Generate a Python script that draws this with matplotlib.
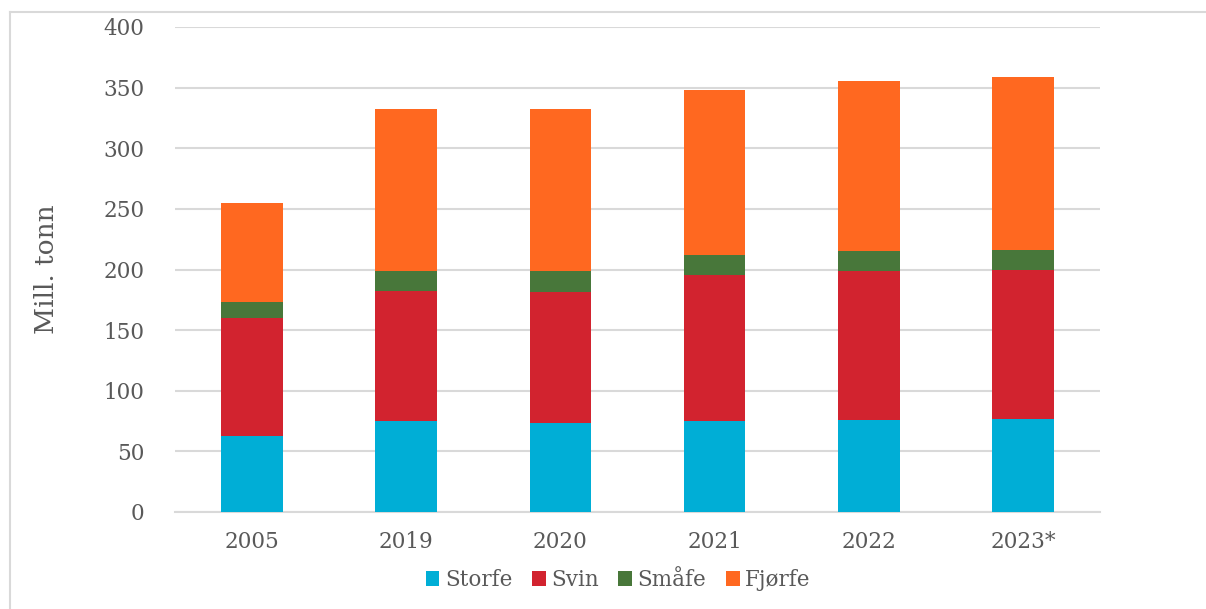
import matplotlib.pyplot as plt
import numpy as np
from matplotlib.lines import Line2D

plt.rcParams["font.family"] = ["DejaVu Serif"]

years = ["2005", "2019", "2020", "2021", "2022", "2023*"]
storfe = [63, 75, 73.5, 75, 76, 76.5]
svin = [97, 107, 108, 120.5, 123, 123]
smaafe = [13, 17, 17, 16.5, 16, 16.5]
fjorfe = [82, 133, 134, 136, 140.5, 142.5]

series = [("Storfe", storfe, "#00AED6"),
          ("Svin", svin, "#D2232F"),
          ("Småfe", smaafe, "#48773A"),
          ("Fjørfe", fjorfe, "#FF6820")]

text_color = "#595959"
grid_color = "#D9D9D9"

W, H = 1206, 609
fig = plt.figure(figsize=(W / 100, H / 100), dpi=100)
ax = fig.add_axes([175 / W, 1 - 512 / H, 925 / W, 485 / H])

x = np.arange(len(years))
bottom = np.zeros(len(years))
for name, vals, color in series:
    ax.bar(x, vals, width=0.4, bottom=bottom, color=color, label=name, zorder=3)
    bottom += np.array(vals)

ax.set_xlim(-0.5, len(years) - 0.5)
ax.set_ylim(0, 400)
ax.set_yticks(range(0, 401, 50))
ax.set_xticks(x)
ax.set_xticklabels(years)
ax.yaxis.grid(True, color=grid_color, linewidth=1.5, zorder=0)
for s in ["top", "right", "left"]:
    ax.spines[s].set_visible(False)
ax.spines["bottom"].set_color(grid_color)
ax.spines["bottom"].set_linewidth(1.5)
ax.tick_params(axis="both", length=0, labelsize=15.5, colors=text_color)
ax.tick_params(axis="y", pad=22)
ax.tick_params(axis="x", pad=14)
ax.set_ylabel("Mill. tonn", fontsize=19, color=text_color, labelpad=32)

fig.legend(loc="center", bbox_to_anchor=(618 / W, 1 - 580 / H), ncol=4,
           frameon=False, fontsize=15.5, labelcolor=text_color,
           handlelength=0.65, handleheight=0.65, handletextpad=0.25,
           columnspacing=0.9)

# partial figure border (left and top)
fig.add_artist(Line2D([10 / W, 1], [1 - 12 / H, 1 - 12 / H], color="#D9D9D9", linewidth=1.5))
fig.add_artist(Line2D([10 / W, 10 / W], [0, 1 - 12 / H], color="#D9D9D9", linewidth=1.5))

fig.savefig("out.png", dpi=100)
